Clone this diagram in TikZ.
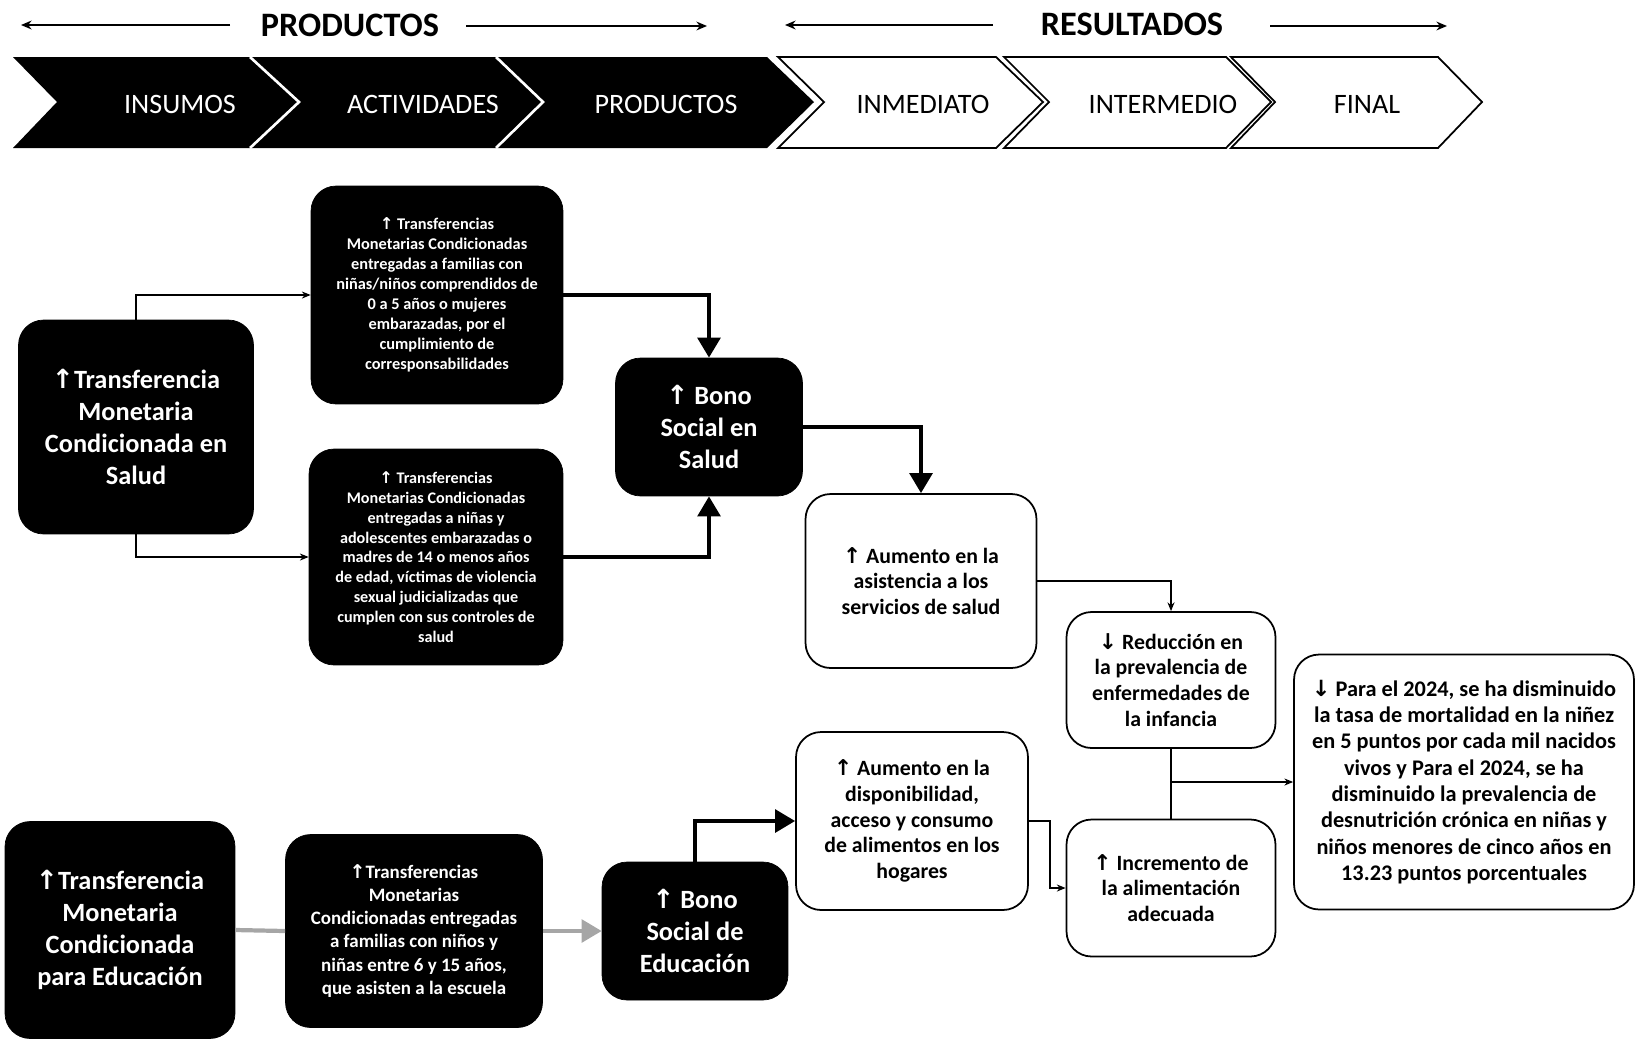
\documentclass[tikz,border=0pt]{standalone}
\usepackage{fontspec}
\setmainfont{Carlito}
\newfontfamily\arrowfont{DejaVu Sans}
\usetikzlibrary{positioning}
\usetikzlibrary{arrows.meta}
\newcommand{\arup}{{\arrowfont\char"2191}}
\newcommand{\ardn}{{\arrowfont\char"2193}}
\tikzstyle{darkbox} = [draw=black, fill=black, text=white, rounded corners=0.5cm, align=center, inner sep=0pt]
\tikzstyle{whitebox} = [draw=black, line width=1pt, fill=white, rounded corners=0.5cm, align=center, inner sep=0pt, font=\bfseries\fontsize{12.4}{14.7}\selectfont]
\tikzstyle{link} = [draw, line width=0.8pt, -{Stealth[length=5pt,width=4pt]}]
\tikzstyle{bigarrow} = [draw, line width=2.4pt, -{Triangle[length=0.4cm,width=0.45cm]}]
\tikzstyle{hdrarrow} = [draw, line width=1.3pt, -{Stealth[length=6pt,width=5pt]}]

\begin{document}
\begin{tikzpicture}[x=0.02cm, y=-0.02cm]
			
			\useasboundingbox (0,0) rectangle (1636,1039);
			
			\begin{scope}[font=\bfseries\fontsize{19.5}{22}\selectfont]
			\node (prodhdr) at (350,25) {PRODUCTOS};
			\node (reshdr) at (1132,24) {RESULTADOS};
			\end{scope}
			
			\coordinate (pa0) at (230,25); \coordinate (pa1) at (21,25);
			\coordinate (pb0) at (466,26); \coordinate (pb1) at (707,26);
			\coordinate (ra0) at (993,25); \coordinate (ra1) at (785,25);
			\coordinate (rb0) at (1270,26); \coordinate (rb1) at (1447,26);
			\path [hdrarrow] (pa0) -- (pa1);
			\path [hdrarrow] (pb0) -- (pb1);
			\path [hdrarrow] (ra0) -- (ra1);
			\path [hdrarrow] (rb0) -- (rb1);
			
			\def\t{57}; \def\m{102}; \def\b{148};
			
			\fill[black] (13,\t) -- (767,\t) -- (814,\m) -- (767,\b) -- (13,\b) -- (57,\m) -- cycle;
			\draw[white, line width=1.5pt] (250,\t) -- (299,\m) -- (250,\b);
			\draw[white, line width=1.5pt] (496,\t) -- (543,\m) -- (496,\b);
			
			\draw[line width=1pt] (778,\t) -- (996,\t) -- (1043,\m) -- (996,\b) -- (778,\b) -- (824,\m) -- cycle;
			\draw[line width=1pt] (1004,\t) -- (1226,\t) -- (1271,\m) -- (1226,\b) -- (1004,\b) -- (1049,\m) -- cycle;
			\draw[line width=1pt] (1231,\t) -- (1438,\t) -- (1482,\m) -- (1438,\b) -- (1231,\b) -- (1275,\m) -- cycle;
			
			\begin{scope}[font=\fontsize{16}{18}\selectfont]
			\node[text=white] (insumos) at (180,104) {INSUMOS};
			\node[text=white] (activ) at (423,104) {ACTIVIDADES};
			\node[text=white] (prod) at (666,104) {PRODUCTOS};
			\node (inmed) at (923,104) {INMEDIATO};
			\node (interm) at (1163,104) {INTERMEDIO};
			\node (final) at (1367,104) {FINAL};
			\end{scope}
			
			\node[darkbox, minimum width=4.70cm, minimum height=4.28cm, font=\bfseries\fontsize{15}{18.2}\selectfont] (tmcsalud) at (136,427)
			{\arup Transferencia\\Monetaria\\Condicionada en\\Salud};
			\node[darkbox, minimum width=5.04cm, minimum height=4.36cm, font=\bfseries\fontsize{9.3}{11.4}\selectfont] (trfam) at (437,295)
			{\arup\ Transferencias\\Monetarias Condicionadas\\entregadas a familias con\\niñas/niños comprendidos de\\0 a 5 años o mujeres\\embarazadas, por el\\cumplimiento de\\corresponsabilidades};
			\node[darkbox, minimum width=5.08cm, minimum height=4.32cm, font=\bfseries\fontsize{9.2}{11.3}\selectfont] (trado) at (436,557)
			{\arup\ Transferencias\\Monetarias Condicionadas\\entregadas a niñas y\\adolescentes embarazadas o\\madres de 14 o menos años\\de edad, víctimas de violencia\\sexual judicializadas que\\cumplen con sus controles de\\salud};
			\node[darkbox, minimum width=3.74cm, minimum height=2.76cm, font=\bfseries\fontsize{15}{18.4}\selectfont] (bonosalud) at (709,427)
			{\arup\ Bono\\Social en\\Salud};
			
			\node[whitebox, minimum width=4.62cm, minimum height=3.48cm] (asist) at (921,581)
			{\arup\ Aumento en la\\asistencia a los\\servicios de salud};
			\node[whitebox, minimum width=4.18cm, minimum height=2.72cm] (reduc) at (1171,680)
			{\ardn\ Reducción en\\la prevalencia de\\enfermedades de\\la infancia};
			\node[whitebox, minimum width=6.80cm, minimum height=5.10cm, font=\bfseries\fontsize{12.7}{15}\selectfont] (meta) at (1464,782)
			{\ardn\ Para el 2024, se ha disminuido\\la tasa de mortalidad en la niñez\\en 5 puntos por cada mil nacidos\\vivos y Para el 2024, se ha\\disminuido la prevalencia de\\desnutrición crónica en niñas y\\niños menores de cinco años en\\13.23 puntos porcentuales};
			\node[whitebox, minimum width=4.18cm, minimum height=2.74cm] (increm) at (1171,888)
			{\arup\ Incremento de\\la alimentación\\adecuada};
			\node[whitebox, minimum width=4.64cm, minimum height=3.56cm] (dispon) at (912,821)
			{\arup\ Aumento en la\\disponibilidad,\\acceso y consumo\\de alimentos en los\\hogares};
			
			\node[darkbox, minimum width=4.60cm, minimum height=4.34cm, font=\bfseries\fontsize{15}{18.2}\selectfont] (tmceduc) at (120,930)
			{\arup Transferencia\\Monetaria\\Condicionada\\para Educación};
			\node[darkbox, minimum width=5.14cm, minimum height=3.86cm, font=\bfseries\fontsize{10.8}{13.1}\selectfont] (treduc) at (414,931)
			{\arup Transferencias\\Monetarias\\Condicionadas entregadas\\a familias con niños y\\niñas entre 6 y 15 años,\\que asisten a la escuela};
			\node[darkbox, minimum width=3.72cm, minimum height=2.76cm, font=\bfseries\fontsize{15}{18.4}\selectfont] (bonoeduc) at (695,931)
			{\arup\ Bono\\Social de\\Educación};
			
			\path [link] (tmcsalud.north) |- (trfam.west);
			\path [link] (tmcsalud.south) |- (trado.west);
			\path [bigarrow] (trfam.east) -| (bonosalud.north);
			\path [bigarrow] (trado.east) -| (bonosalud.south);
			\path [bigarrow] (bonosalud.east) -| (asist.north);
			\path [link] (asist.east) -| (reduc.north);
			\draw[line width=0.8pt] (reduc.south) -- (increm.north);
			\path [link] (reduc.south |- meta.west) -- (meta.west);
			\path [link] (dispon.east) -- ++(21,0) |- (increm.west);
			
			\draw[gray!70, line width=2.4pt] (tmceduc.east) -- (treduc.west);
			\path [bigarrow, draw=gray!70] (treduc.east) -- (bonoeduc.west);
			\path [bigarrow] (bonoeduc.north) |- (dispon.west);
			
			\end{tikzpicture}
\end{document}
